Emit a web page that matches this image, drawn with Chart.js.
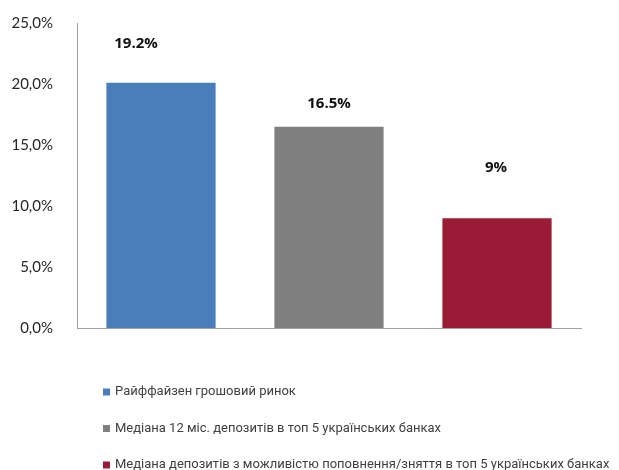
<!DOCTYPE html>
<html>
<head>
<meta charset="utf-8">
<script src="https://cdn.jsdelivr.net/npm/chart.js@4.4.1/dist/chart.umd.min.js"></script>
<style>
  html, body { margin: 0; padding: 0; background: #ffffff; }
  #wrap { width: 619px; height: 470px; position: relative; }
</style>
</head>
<body>
<div id="wrap"><canvas id="c" width="619" height="470"></canvas></div>
<script>
// ---- data ----
const categories = [
  'Райффайзен грошовий ринок',
  'Медіана 12 міс. депозитів в топ 5 українських банках',
  'Медіана депозитів з можливістю поповнення/зняття в топ 5 українських банках'
];
const values = [20.1, 16.5, 9.0];
const valueLabels = ['19.2%', '16.5%', '9%'];
const barColors = ['#4a7ebb', '#7f7f7f', '#9a1b36'];
const yTicks = [0, 5, 10, 15, 20, 25];

// ---- plugins ----
const labelPlugin = {
  id: 'valueLabels',
  afterDatasetsDraw(chart, args, opts) {
    const ctx = chart.ctx;
    const meta = chart.getDatasetMeta(0);
    ctx.save();
    ctx.font = 'bold 15px "Open Sans", sans-serif';
    ctx.fillStyle = '#111111';
    ctx.textAlign = 'center';
    ctx.textBaseline = 'middle';
    meta.data.forEach((bar, i) => {
      const off = opts.offsets[i];
      ctx.fillText(valueLabels[i], bar.x + off[0], bar.y + off[1]);
    });
    ctx.restore();
  }
};

const legendPlugin = {
  id: 'stackedLegend',
  afterDraw(chart, args, opts) {
    const ctx = chart.ctx;
    ctx.save();
    ctx.font = '13px Roboto, sans-serif';
    ctx.textBaseline = 'middle';
    ctx.textAlign = 'left';
    categories.forEach((c, i) => {
      const y = opts.top + i * opts.step;
      ctx.fillStyle = barColors[i];
      ctx.fillRect(opts.left, y - 3.5, 7, 7);
      ctx.fillStyle = '#404040';
      ctx.fillText(c, opts.left + 12, y);
    });
    ctx.restore();
  }
};

new Chart(document.getElementById('c'), {
  type: 'bar',
  data: {
    labels: categories,
    datasets: [{
      data: values,
      backgroundColor: barColors,
      borderWidth: 0,
      categoryPercentage: 1.0,
      barPercentage: 0.65
    }]
  },
  options: {
    responsive: false,
    animation: false,
    devicePixelRatio: 1,
    layout: { padding: { left: 0, top: 23, right: 38, bottom: 142 } },
    plugins: {
      legend: { display: false },
      tooltip: { enabled: false },
      valueLabels: { offsets: [[-25, -39], [0, -23], [-1, -50]] },
      stackedLegend: { left: 103, top: 392, step: 36.5 }
    },
    scales: {
      x: {
        grid: { display: false, drawTicks: false },
        border: { display: true, color: '#a0a0a0', width: 1 },
        ticks: { display: false },
        afterFit(s) { s.height = 0; s.paddingLeft = 0; s.paddingRight = 0; }
      },
      y: {
        min: 0,
        max: 25,
        grid: { display: false, drawTicks: false },
        border: { display: true, color: '#a0a0a0', width: 1 },
        afterBuildTicks(s) { s.ticks = yTicks.map(v => ({ value: v })); },
        ticks: {
          padding: 24,
          color: '#262626',
          font: { family: 'Lato, sans-serif', size: 15 },
          callback: v => v.toFixed(1).replace('.', ',') + '%'
        },
        afterFit(s) { s.width = 77; s.paddingTop = 0; s.paddingBottom = 0; }
      }
    }
  },
  plugins: [labelPlugin, legendPlugin]
});
</script>
</body>
</html>
